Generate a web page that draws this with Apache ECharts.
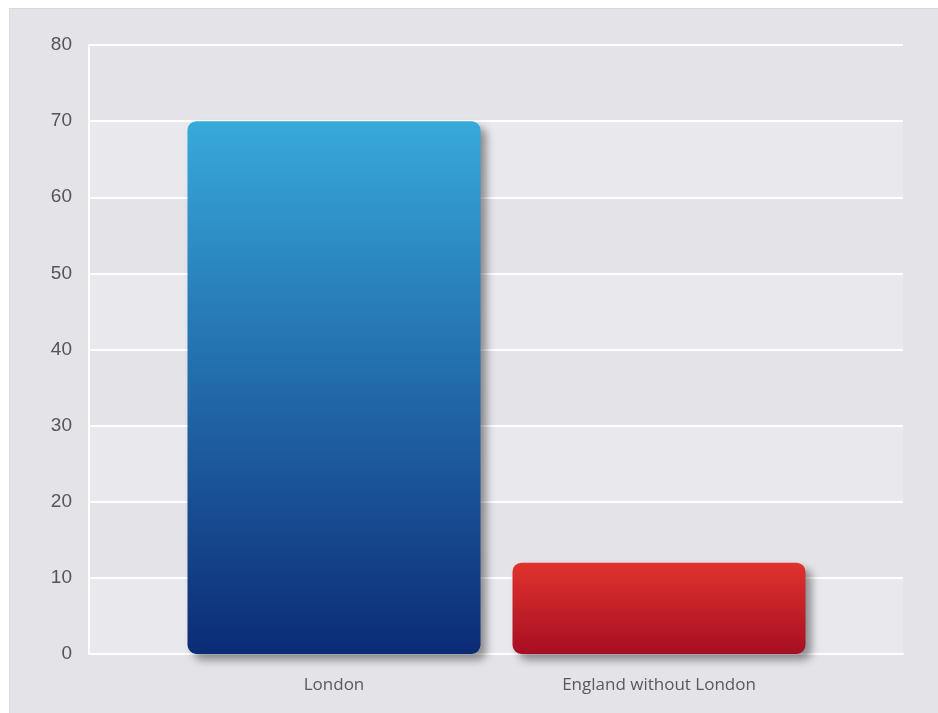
<!DOCTYPE html>
<html>
<head>
<meta charset="utf-8">
<script src="https://cdn.jsdelivr.net/npm/echarts@6/dist/echarts.min.js"></script>
<style>
  html, body { margin: 0; padding: 0; background: #ffffff; }
  #panel { position: absolute; left: 9px; top: 8px; width: 929px; height: 705px;
           background: #e4e3e8; border-top: 1px solid #d9d8dd; border-left: 1px solid #dcdbe0; box-sizing: border-box; }
  #main { position: absolute; left: 0; top: 0; width: 938px; height: 713px; }
</style>
</head>
<body>
<div id="panel"></div>
<div id="main"></div>
<script>
const categories = ['London', 'England without London'];
const values = [70, 12];
const yTicks = [0, 10, 20, 30, 40, 50, 60, 70, 80];

const chart = echarts.init(document.getElementById('main'));

const barColors = [
  ['#37a9db', '#0c2b77'],
  ['#e1332e', '#a60e22']
];

const options = {
  backgroundColor: 'transparent',
  grid: [
    { left: 89, right: 35, top: 45, bottom: 59 },     // background grid with bands
    { left: 171.5, right: 116.5, top: 45, bottom: 59 } // bars
  ],
  xAxis: [
    {
      gridIndex: 0,
      type: 'category',
      data: [''],
      axisLine: { show: true, lineStyle: { color: '#ffffff', width: 2 } },
      axisTick: { show: false },
      axisLabel: { show: false }
    },
    {
      gridIndex: 1,
      type: 'category',
      data: categories,
      axisLine: { show: false },
      axisTick: { show: false },
      axisLabel: {
        color: '#5a5a5e',
        fontSize: 17,
        fontFamily: 'Open Sans',
        margin: 23
      }
    }
  ],
  yAxis: [
    {
      gridIndex: 0,
      type: 'value',
      min: yTicks[0],
      max: yTicks[yTicks.length - 1],
      interval: 10,
      axisLine: { show: true, lineStyle: { color: '#ffffff', width: 2 } },
      axisTick: { show: false },
      axisLabel: {
        color: '#555558',
        fontSize: 19,
        fontFamily: 'Liberation Sans',
        margin: 17
      },
      splitLine: { lineStyle: { color: '#ffffff', width: 2 } },
      splitArea: { show: true, areaStyle: { color: ['#e9e8ed', '#e4e3e8'] } }
    },
    {
      gridIndex: 1,
      type: 'value',
      min: yTicks[0],
      max: yTicks[yTicks.length - 1],
      interval: 10,
      show: false
    }
  ],
  series: [
    {
      type: 'bar',
      xAxisIndex: 1,
      yAxisIndex: 1,
      barWidth: 293,
      data: values.map((v, i) => ({
        value: v,
        itemStyle: {
          color: new echarts.graphic.LinearGradient(0, 0, 0, 1, [
            { offset: 0, color: barColors[i][0] },
            { offset: 1, color: barColors[i][1] }
          ]),
          borderRadius: 9,
          shadowColor: 'rgba(0,0,0,0.4)',
          shadowBlur: 9,
          shadowOffsetX: 6,
          shadowOffsetY: 6
        }
      }))
    }
  ]
};

chart.setOption(options);
</script>
</body>
</html>
